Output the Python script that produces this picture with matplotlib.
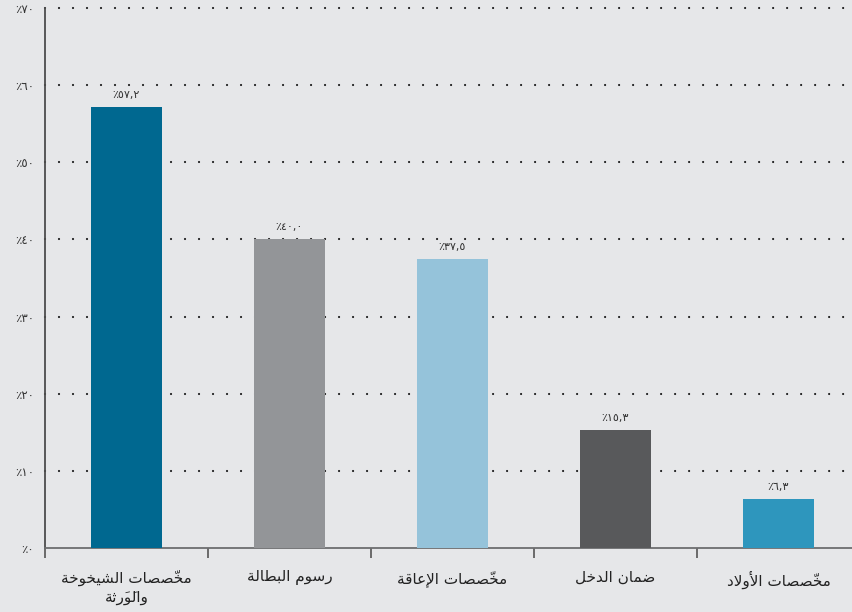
import matplotlib

matplotlib.use("Agg")
import matplotlib.pyplot as plt

plt.rcParams["font.family"] = ["DejaVu Sans"]

CATEGORIES = ["مخصّصات الشيخوخة\nوالوَرَثة", "رسوم البطالة", "مخصّصات الإعاقة",
              "ضمان الدخل", "مخصّصات الأولاد"]
VALUES = [57.2, 40.0, 37.5, 15.3, 6.3]
COLORS = ["#006890", "#939598", "#95c3da", "#58595b", "#2e96bd"]
YTICKS = [0, 10, 20, 30, 40, 50, 60, 70]
BG = "#e6e7e9"

# Arabic presentation forms: isolated, final, initial, medial
DUAL = {
    "ب": "\ufe8f\ufe90\ufe91\ufe92", "ت": "\ufe95\ufe96\ufe97\ufe98",
    "ث": "\ufe99\ufe9a\ufe9b\ufe9c", "خ": "\ufea5\ufea6\ufea7\ufea8",
    "س": "\ufeb1\ufeb2\ufeb3\ufeb4", "ش": "\ufeb5\ufeb6\ufeb7\ufeb8",
    "ص": "\ufeb9\ufeba\ufebb\ufebc", "ض": "\ufebd\ufebe\ufebf\ufec0",
    "ط": "\ufec1\ufec2\ufec3\ufec4", "ع": "\ufec9\ufeca\ufecb\ufecc",
    "ق": "\ufed5\ufed6\ufed7\ufed8", "ل": "\ufedd\ufede\ufedf\ufee0",
    "م": "\ufee1\ufee2\ufee3\ufee4", "ن": "\ufee5\ufee6\ufee7\ufee8",
    "ي": "\ufef1\ufef2\ufef3\ufef4",
}
RIGHT = {
    "ا": "\ufe8d\ufe8e", "أ": "\ufe83\ufe84", "إ": "\ufe87\ufe88",
    "د": "\ufea9\ufeaa", "ر": "\ufead\ufeae", "و": "\ufeed\ufeee",
    "ة": "\ufe93\ufe94",
}
LAM_ALEF = {"ا": "\ufefb\ufefc", "أ": "\ufef7\ufef8", "إ": "\ufef9\ufefa"}
MARKS = set("\u064b\u064c\u064d\u064e\u064f\u0650\u0651\u0652")
DIGITS = str.maketrans("0123456789.", "٠١٢٣٤٥٦٧٨٩,")


def shape_line(line):
    # group base letters with their marks, merge lam+alef
    units = []
    for ch in line:
        if ch in MARKS and units:
            units[-1][1] += ch
        elif ch in LAM_ALEF and units and units[-1][0] == "ل" and not units[-1][1]:
            units[-1][0] = "ل" + ch
        else:
            units.append([ch, ""])

    def dual(u):
        return u in DUAL

    def arabic(u):
        return u in DUAL or u in RIGHT or len(u) == 2

    out = []
    for i, (u, m) in enumerate(units):
        prev_j = i > 0 and dual(units[i - 1][0])
        next_j = dual(u) and i + 1 < len(units) and arabic(units[i + 1][0])
        if len(u) == 2:
            g = LAM_ALEF[u[1]][1 if prev_j else 0]
        elif u in DUAL:
            g = DUAL[u][{(False, False): 0, (True, False): 1,
                         (False, True): 2, (True, True): 3}[(prev_j, next_j)]]
        elif u in RIGHT:
            g = RIGHT[u][1 if prev_j else 0]
        else:
            g = u
        out.append(g + m)
    return "".join(reversed(out))


def shape(text):
    return "\n".join(shape_line(l) for l in text.split("\n"))


def pct(v, fmt="{:.0f}"):
    return "٪" + fmt.format(v).translate(DIGITS)


fig = plt.figure(figsize=(8.52, 6.12), dpi=100, facecolor=BG)
ax = fig.add_axes([45 / 852, 64 / 612, 807 / 852, 540 / 612])
ax.set_facecolor(BG)

x = range(len(VALUES))
ax.bar(x, VALUES, width=0.43, color=COLORS, zorder=3)
for xi, v in zip(x, VALUES):
    ax.text(xi, v + 0.9, pct(v, "{:.1f}"), ha="center", va="bottom",
            fontsize=8, color="#333333", zorder=4)

for t in YTICKS[1:]:
    ax.axhline(t, color="#1a1a1a", lw=1.6, ls=(0, (0.001, 6.3)),
               dash_capstyle="round", zorder=1, clip_on=False)

ax.set_xlim(-0.5, 4.451)
ax.set_ylim(0, 70)
ax.set_yticks(YTICKS)
ax.set_yticklabels([pct(t) for t in YTICKS], fontsize=8.5, color="#333333")
ax.tick_params(axis="y", length=0, pad=8)

ax.set_xticks(list(x))
ax.set_xticklabels([shape(c) for c in CATEGORIES], fontsize=11, color="#222222",
                   linespacing=1.25)
ax.set_xticks([i + 0.5 for i in range(-1, 4)], minor=True)
ax.tick_params(axis="x", which="major", length=0, pad=16)
ax.tick_params(axis="x", which="minor", length=7, width=1.2, color="#555555",
               direction="out")

for s in ["top", "right"]:
    ax.spines[s].set_visible(False)
ax.spines["left"].set_color("#4d4d4d")
ax.spines["left"].set_linewidth(1.3)
ax.spines["bottom"].set_color("#6d6e70")
ax.spines["bottom"].set_linewidth(1.3)

fig.savefig("out.png", dpi=100, facecolor=BG)
